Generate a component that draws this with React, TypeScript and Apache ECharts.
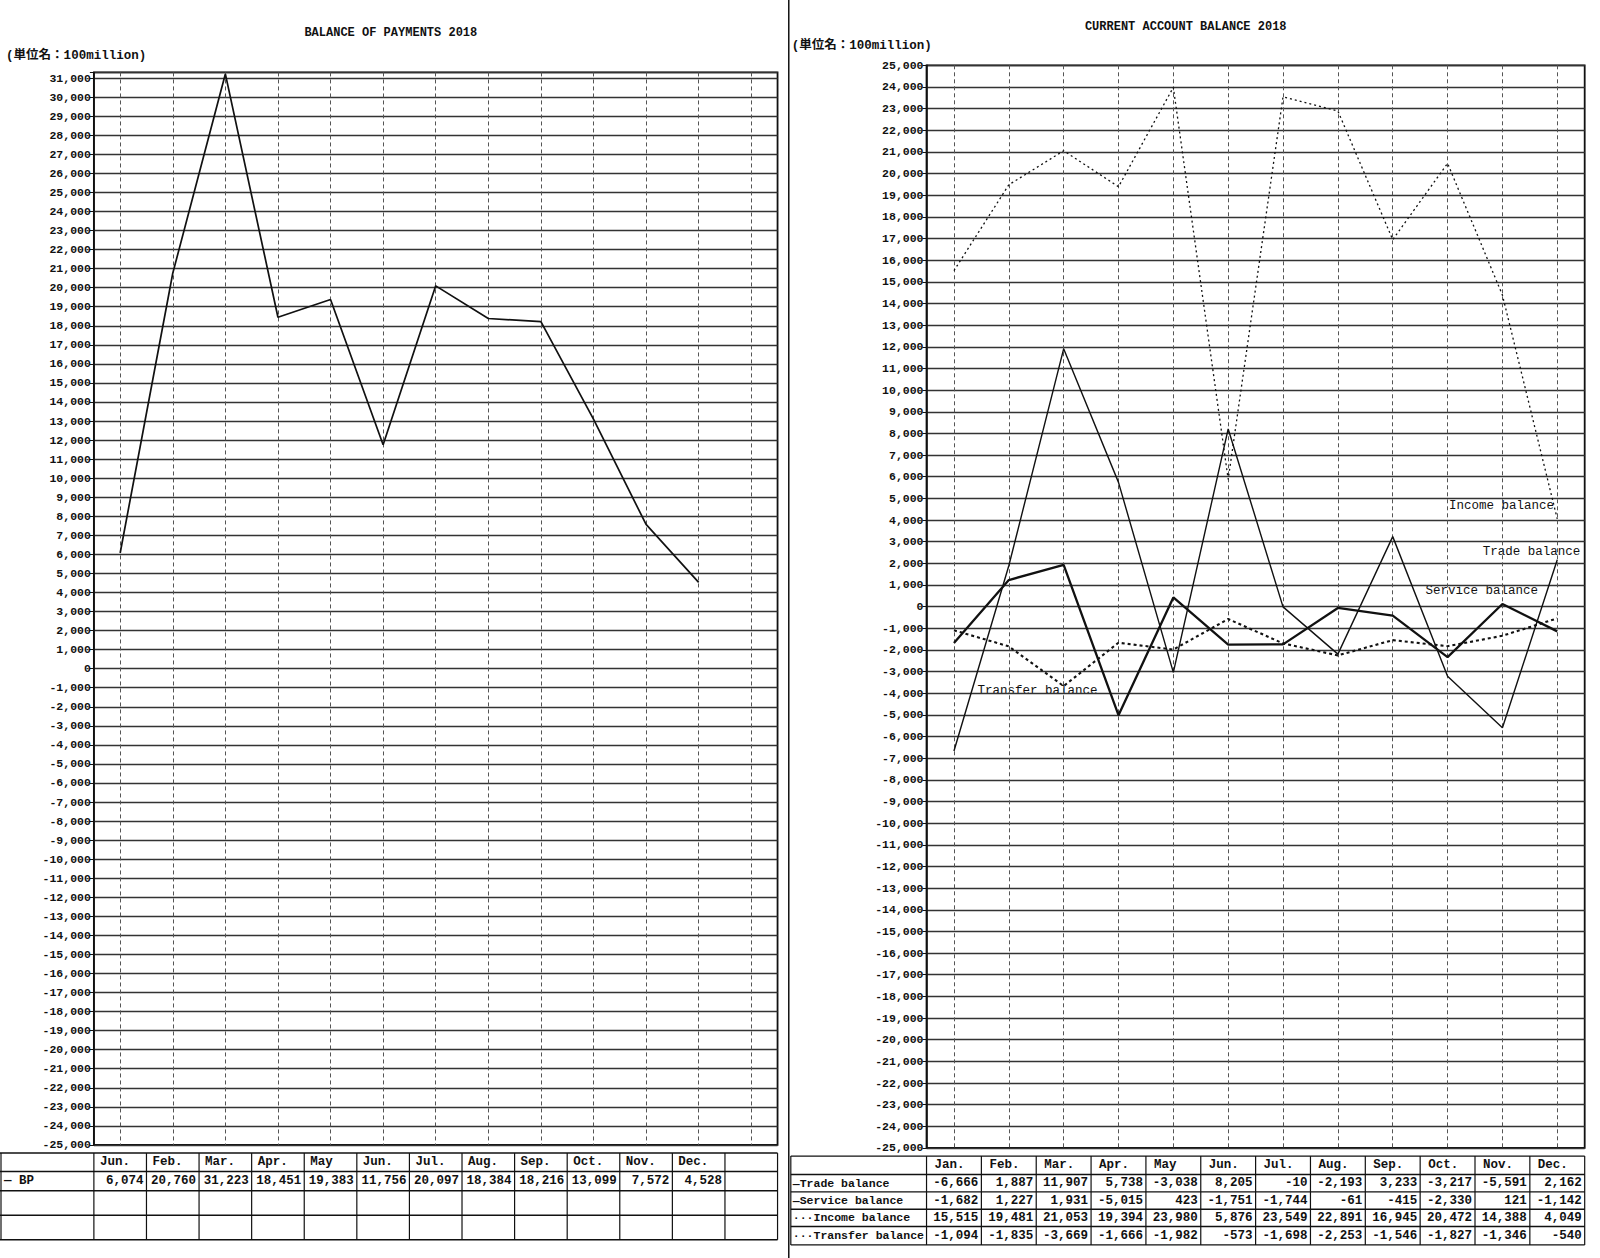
import React, { useEffect, useRef } from 'react';
import * as echarts from 'echarts';

// ---------- data ----------
const leftMonths = ['Jun.', 'Feb.', 'Mar.', 'Apr.', 'May', 'Jun.', 'Jul.', 'Aug.', 'Sep.', 'Oct.', 'Nov.', 'Dec.'];
const rightMonths = ['Jan.', 'Feb.', 'Mar.', 'Apr.', 'May', 'Jun.', 'Jul.', 'Aug.', 'Sep.', 'Oct.', 'Nov.', 'Dec.'];
const bpValues = [6074, 20760, 31223, 18451, 19383, 11756, 20097, 18384, 18216, 13099, 7572, 4528];
const tradeValues = [-6666, 1887, 11907, 5738, -3038, 8205, -10, -2193, 3233, -3217, -5591, 2162];
const serviceValues = [-1682, 1227, 1931, -5015, 423, -1751, -1744, -61, -415, -2330, 121, -1142];
const incomeValues = [15515, 19481, 21053, 19394, 23980, 5876, 23549, 22891, 16945, 20472, 14388, 4049];
const transferValues = [-1094, -1835, -3669, -1666, -1982, -573, -1698, -2253, -1546, -1827, -1346, -540];

const leftTitle = 'BALANCE OF PAYMENTS 2018';
const rightTitle = 'CURRENT ACCOUNT BALANCE 2018';
const unitText = '(単位名：100million)';
const bpName = 'BP';
const tradeName = 'Trade balance';
const serviceName = 'Service balance';
const incomeName = 'Income balance';
const transferName = 'Transfer balance';

// ---------- layout ----------
const S = 1600 / 1568;
const p = (v: number) => v * S;
const FONT = '"Liberation Mono", "Noto Sans CJK JP", monospace';
const L = { left: p(92), right: p(762), top: p(71), bottom: p(1122) };
const R = { left: p(908), right: p(1553), top: p(64), bottom: p(1125) };
const leftCats = [...leftMonths, ''];
const leftColW = (L.right - L.left) / leftCats.length;
const rightColW = (R.right - R.left) / rightMonths.length;
const leftRows = [1130, 1148, 1167, 1191, 1215].map(p);
const rightRows = [1133, 1151, 1168, 1185, 1202, 1220].map(p);
const rightTableLeft = p(775);

const fmt = (v: number) => (v === 0 ? '0' : v.toLocaleString('en-US'));
const yLabel = (v: number) => (v % 1000 !== 0 ? '' : fmt(v));

function line(x1: number, y1: number, x2: number, y2: number, w = 1.2) {
  return { type: 'line', shape: { x1, y1, x2, y2 }, style: { stroke: '#111', lineWidth: w }, silent: true };
}
function text(x: number, y: number, t: string, align = 'left', size = 12, weight = 'bold') {
  return {
    type: 'text',
    x,
    y,
    silent: true,
    style: { text: t, fill: '#111', font: `${weight} ${size}px ${FONT}`, textAlign: align, textVerticalAlign: 'middle' },
  };
}

function buildTables() {
  const g: any[] = [];
  // left table
  leftRows.forEach((y) => g.push(line(0, y, L.right, y, 1.4)));
  g.push(line(1, leftRows[0], 1, leftRows[leftRows.length - 1]));
  for (let i = 0; i <= leftCats.length; i++) {
    const x = L.left + i * leftColW;
    g.push(line(x, leftRows[0], x, leftRows[leftRows.length - 1]));
  }
  leftMonths.forEach((m, i) => {
    g.push(text(L.left + i * leftColW + 6, (leftRows[0] + leftRows[1]) / 2, m, 'left', 12.5));
  });
  g.push(text(4, (leftRows[1] + leftRows[2]) / 2, '— ' + bpName, 'left', 12.5));
  bpValues.forEach((v, i) => {
    g.push(text(L.left + (i + 1) * leftColW - 3, (leftRows[1] + leftRows[2]) / 2, fmt(v), 'right', 12.5));
  });

  // right table
  rightRows.forEach((y) => g.push(line(rightTableLeft, y, R.right, y, 1.4)));
  g.push(line(rightTableLeft, rightRows[0], rightTableLeft, rightRows[rightRows.length - 1]));
  for (let i = 0; i <= rightMonths.length; i++) {
    const x = R.left + i * rightColW;
    g.push(line(x, rightRows[0], x, rightRows[rightRows.length - 1]));
  }
  rightMonths.forEach((m, i) => {
    g.push(text(R.left + i * rightColW + 8, (rightRows[0] + rightRows[1]) / 2, m, 'left', 12.5));
  });
  const rows: [string, number[]][] = [
    ['—' + tradeName, tradeValues],
    ['—' + serviceName, serviceValues],
    ['···' + incomeName, incomeValues],
    ['···' + transferName, transferValues],
  ];
  rows.forEach(([name, vals], r) => {
    const cy = (rightRows[r + 1] + rightRows[r + 2]) / 2;
    g.push(text(rightTableLeft + 2, cy, name, 'left', 11.5));
    vals.forEach((v, i) => {
      g.push(text(R.left + (i + 1) * rightColW - 3, cy, fmt(v), 'right', 12.5));
    });
  });
  return g;
}

export default function App() {
  const ref = useRef<HTMLDivElement>(null);
  useEffect(() => {
    if (!ref.current) return;
    const chart = echarts.init(ref.current, undefined, { renderer: 'svg' });
    const yAxisCommon = {
      type: 'value',
      interval: 1000,
      axisLine: { show: true, lineStyle: { color: '#111', width: 1.5 } },
      axisTick: { show: true, length: 4, lineStyle: { color: '#111' } },
      axisLabel: { formatter: yLabel, color: '#111', fontFamily: FONT, fontWeight: 'bold', fontSize: 11.5, margin: 3 },
      splitLine: { show: true, lineStyle: { color: '#333', width: 1.3 } },
    };
    const xAxisCommon = {
      type: 'category',
      boundaryGap: true,
      axisLine: { show: false },
      axisTick: { show: false },
      axisLabel: { show: false },
      splitLine: { show: true, alignWithLabel: true, lineStyle: { color: '#555', width: 1, type: [4, 3] } },
    };
    const option: any = {
      animation: false,
      backgroundColor: '#fff',
      grid: [
        {
          left: L.left,
          top: L.top,
          width: L.right - L.left,
          height: L.bottom - L.top,
          show: true,
          borderColor: '#111',
          borderWidth: 1.8,
          backgroundColor: 'transparent',
        },
        {
          left: R.left,
          top: R.top,
          width: R.right - R.left,
          height: R.bottom - R.top,
          show: true,
          borderColor: '#111',
          borderWidth: 1.8,
          backgroundColor: 'transparent',
        },
      ],
      xAxis: [
        { ...xAxisCommon, gridIndex: 0, data: leftCats },
        { ...xAxisCommon, gridIndex: 1, data: rightMonths },
      ],
      yAxis: [
        { ...yAxisCommon, gridIndex: 0, min: -25000, max: 31300 },
        { ...yAxisCommon, gridIndex: 1, min: -25000, max: 25000 },
      ],
      series: [
        {
          name: bpName,
          type: 'line',
          xAxisIndex: 0,
          yAxisIndex: 0,
          data: bpValues,
          showSymbol: false,
          clip: false,
          lineStyle: { color: '#111', width: 1.7 },
        },
        {
          name: tradeName,
          type: 'line',
          xAxisIndex: 1,
          yAxisIndex: 1,
          data: tradeValues,
          showSymbol: false,
          lineStyle: { color: '#111', width: 1.4 },
        },
        {
          name: serviceName,
          type: 'line',
          xAxisIndex: 1,
          yAxisIndex: 1,
          data: serviceValues,
          showSymbol: false,
          lineStyle: { color: '#111', width: 2.3 },
        },
        {
          name: incomeName,
          type: 'line',
          xAxisIndex: 1,
          yAxisIndex: 1,
          data: incomeValues,
          showSymbol: false,
          lineStyle: { color: '#111', width: 1.3, type: [2, 3] },
        },
        {
          name: transferName,
          type: 'line',
          xAxisIndex: 1,
          yAxisIndex: 1,
          data: transferValues,
          showSymbol: false,
          lineStyle: { color: '#111', width: 2.1, type: [3, 3] },
        },
      ],
      graphic: [
        text(p(383), p(32), leftTitle, 'center', 12),
        text(p(6), p(55), unitText, 'left', 12.5),
        text(p(1162), p(26), rightTitle, 'center', 12),
        text(p(776), p(45), unitText, 'left', 12.5),
        text(p(1420), p(496), incomeName, 'left', 12.5, 'normal'),
        text(p(1453), p(541), tradeName, 'left', 12.5, 'normal'),
        text(p(1397), p(579), serviceName, 'left', 12.5, 'normal'),
        text(p(958), p(677), transferName, 'left', 12.5, 'normal'),
        line(p(773), 0, p(773), 1258, 1.5),
        ...buildTables(),
      ],
    };
    chart.setOption(option);
    return () => chart.dispose();
  }, []);
  return <div ref={ref} style={{ position: 'absolute', left: 0, top: 0, width: 1600, height: 1258 }} />;
}
